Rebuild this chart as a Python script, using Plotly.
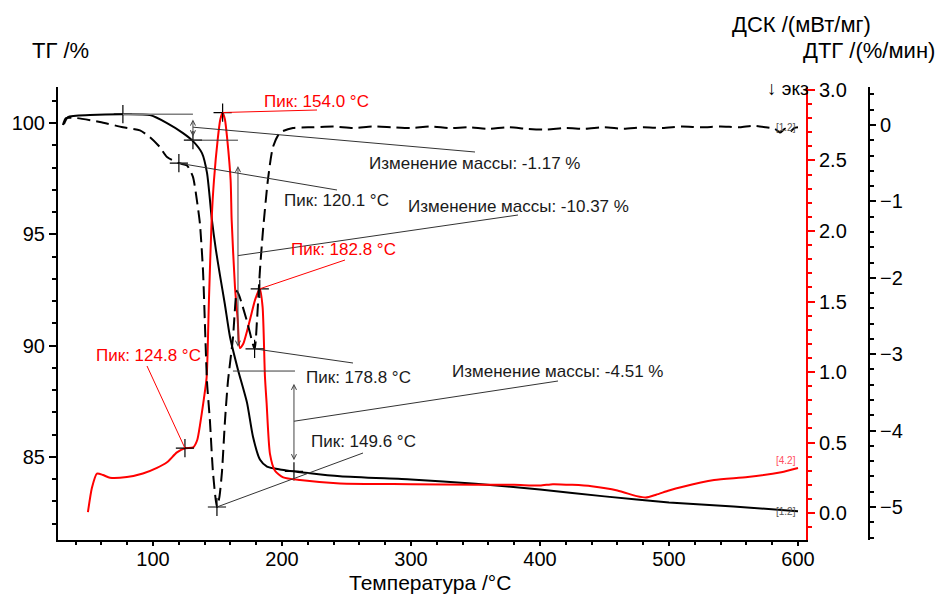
import plotly.graph_objects as go

# ---------------- data ----------------
T_tg = [31, 34.1, 51.2, 76.7, 97.7, 110.9, 123.3, 131.0, 138.0, 141.9, 145.7, 148.8,
        151.9, 155.8, 159.7, 165.9, 172.9, 177.5, 182.9, 188.4, 198.4, 245, 300, 350,
        400, 450, 500, 550, 600]
tg = [99.95, 100.27, 100.36, 100.40, 100.36, 100.0, 99.55, 99.19, 98.65, 97.76, 95.65, 94.3,
      93.18, 91.84, 90.4, 88.92, 87.44, 85.92, 84.89, 84.57, 84.44, 84.13, 83.99, 83.8,
      83.54, 83.23, 82.96, 82.78, 82.56]

T_dsc = [49.6, 52.7, 56.6, 61.2, 66.7, 79.8, 92.2, 103.1, 110.9, 118.6, 124.8, 131.2, 134.4,
         136.4, 139.0, 141.6, 143.4, 145.5, 147.3, 150.2, 152.2, 154.0, 155.8, 157.6, 160.2,
         161.0, 163.6, 165.7, 167.4, 170.0, 175.2, 179.1, 182.8, 185.0, 186.8, 188.1, 190.7,
         194.6, 201.0, 214.0, 245.0, 300, 350, 380, 400, 410, 425, 440, 460, 475, 482, 490,
         500, 510, 535, 561, 587, 600]
dsc = [0.007, 0.18, 0.28, 0.27, 0.25, 0.255, 0.28, 0.32, 0.36, 0.43, 0.46, 0.466, 0.52,
       0.62, 0.78, 0.96, 1.51, 2.08, 2.36, 2.65, 2.79, 2.84, 2.79, 2.65, 2.36,
       2.08, 1.60, 1.37, 1.17, 1.20, 1.37, 1.51, 1.59, 1.46, 0.97, 0.78, 0.42,
       0.30, 0.253, 0.234, 0.21, 0.205, 0.20, 0.20, 0.195, 0.205, 0.20, 0.19, 0.16, 0.12, 0.11, 0.13,
       0.16, 0.185, 0.234, 0.255, 0.29, 0.32]

T_dtg = [30.2, 32.6, 41.1, 58.9, 76.7, 89.9, 97.7, 105.4, 110.9, 120.1, 126.4, 131.0, 134.1,
         136.4, 138.8, 141.9, 144.2, 146.5, 149.6, 151.5, 153.5, 155.8, 158.1, 162.0, 165.1,
         167.4, 172.9, 178.8, 180.6, 182.9, 185.3, 189.1, 193.0, 198.4, 208.5, 224, 240, 255,
         270, 285, 300, 315, 330, 345, 360, 375, 390, 405, 420, 435, 450, 465, 480, 495, 510,
         525, 540, 555, 565, 575, 582, 586, 590, 594, 597, 600]
dtg = [0.0, 0.09, 0.09, 0.04, -0.03, -0.07, -0.16, -0.29, -0.42, -0.50, -0.53, -0.68, -0.99,
       -1.29, -1.91, -3.36, -3.88, -4.54, -5.00, -4.87, -4.54, -3.88, -3.36, -2.79, -2.17,
       -2.26, -2.57, -2.93, -2.57, -1.91, -1.38, -0.72, -0.29, -0.10, -0.04, -0.03, -0.02, -0.04,
       -0.02, -0.03, -0.04, -0.02, -0.04, -0.03, -0.05, -0.03, -0.05, -0.06, -0.04, -0.05, -0.03,
       -0.05, -0.03, -0.04, -0.02, -0.03, -0.02, -0.03, -0.01, -0.03, -0.05, -0.10, -0.05, -0.09,
       -0.04, -0.03]

dsc_peak_T = [124.8, 154.0, 182.8]
dsc_peak_v = [0.46, 2.84, 1.59]
dtg_peak_T = [120.1, 149.6, 178.8]
dtg_peak_v = [-0.50, -5.00, -2.93]

tg_start_T = 76.7
tg_start = 100.40
mass_change = [-1.17, -10.37, -4.51]
step_T = [131.0, 165.9, 209.3]

x_tickvals = [100, 200, 300, 400, 500, 600]
tg_tickvals = [85, 90, 95, 100]
dsc_tickvals = [0.0, 0.5, 1.0, 1.5, 2.0, 2.5, 3.0]
dtg_tickvals = [-5, -4, -3, -2, -1, 0]

# ---------------- layout geometry ----------------
W, H = 939, 594
ML, MR, MT, MB = 58, 20, 87, 54
PW, PH = W - ML - MR, H - MT - MB
X_RANGE = [26.4, 606.2]
Y_TG = [81.27, 101.62]
Y_DSC = [-0.191, 3.021]
Y_DTG = [-5.432, 0.497]
DOM_X1 = 748 / PW
DTG_POS = (869 - ML) / PW

RED = "#ff0000"
INK = "#1a1a1a"
FONT = "Liberation Sans, Arial, sans-serif"


def px(xp):
    return (xp - ML) / PW


def py(yp):
    return (H - MB - yp) / PH


def dx(T):
    return DOM_X1 * (T - X_RANGE[0]) / (X_RANGE[1] - X_RANGE[0])


def dy(v, rng):
    return (v - rng[0]) / (rng[1] - rng[0])


fig = go.Figure()

fig.add_trace(go.Scatter(x=T_tg, y=tg, mode="lines", yaxis="y",
                         line=dict(color="black", width=2, shape="spline", smoothing=0.6),
                         showlegend=False, hoverinfo="skip"))
fig.add_trace(go.Scatter(x=T_dsc, y=dsc, mode="lines", yaxis="y2",
                         line=dict(color=RED, width=2, shape="spline", smoothing=0.6),
                         showlegend=False, hoverinfo="skip"))
fig.add_trace(go.Scatter(x=T_dtg, y=dtg, mode="lines", yaxis="y3",
                         line=dict(color="black", width=2, dash="13px,6px", shape="spline", smoothing=0.6),
                         showlegend=False, hoverinfo="skip"))

# mass change levels
levels = [tg_start]
for m in mass_change:
    levels.append(levels[-1] + m)

cross = dict(symbol="cross-thin", size=13, line=dict(width=1.2, color="black"))
fig.add_trace(go.Scatter(x=[tg_start_T, step_T[0], step_T[2]], y=[levels[0], levels[1], levels[3]],
                         mode="markers", yaxis="y", marker=cross, showlegend=False, hoverinfo="skip"))
fig.add_trace(go.Scatter(x=dsc_peak_T, y=dsc_peak_v, mode="markers", yaxis="y2",
                         marker=cross, showlegend=False, hoverinfo="skip"))
fig.add_trace(go.Scatter(x=dtg_peak_T, y=dtg_peak_v, mode="markers", yaxis="y3",
                         marker=cross, showlegend=False, hoverinfo="skip"))

shapes = []
annotations = []

# horizontal level lines
line_spans = [(tg_start_T, step_T[0]), (step_T[0] - 4.6, step_T[1]), (step_T[1] - 3.9, step_T[2] + 0.8)]
for k, (a, b) in enumerate(line_spans):
    shapes.append(dict(type="line", xref="x", yref="y", x0=a, x1=b, y0=levels[k], y1=levels[k],
                       line=dict(color="#7f7f7f" if k == 0 else "#3a3a3a", width=1.5 if k == 0 else 1)))

# double arrows for mass change
mass_text_pos = [(474, 163), (518, 206), (557, 371)]
mass_leader_end = [(475, 152), (518, 215), (558, 381)]
for k in range(3):
    top, bot = levels[k], levels[k + 1]
    inset = 0.1 * abs(mass_change[k]) + 0.05
    annotations.append(dict(x=step_T[k], y=bot + inset, ax=step_T[k], ay=top - inset,
                            xref="x", yref="y", axref="x", ayref="y", text="", showarrow=True,
                            arrowside="end+start", arrowhead=5, arrowsize=1, arrowwidth=1,
                            arrowcolor="#444444"))
    mid = (top + bot) / 2
    shapes.append(dict(type="line", xref="paper", yref="paper",
                       x0=dx(step_T[k]), y0=dy(mid, Y_TG),
                       x1=px(mass_leader_end[k][0]), y1=py(mass_leader_end[k][1]),
                       line=dict(color="#333333", width=1)))
    annotations.append(dict(x=px(mass_text_pos[k][0]), y=py(mass_text_pos[k][1]), xref="paper", yref="paper",
                            text="Изменение массы: %.2f %%" % mass_change[k], showarrow=False,
                            xanchor="center", yanchor="middle",
                            font=dict(family=FONT, size=17, color=INK)))

# peak labels
dsc_text_pos = [(148, 356), (316, 101), (343, 249)]
dsc_leader_end = [(147, 366), (317, 110), (345, 260)]
for k in range(3):
    shapes.append(dict(type="line", xref="paper", yref="paper",
                       x0=dx(dsc_peak_T[k]), y0=dy(dsc_peak_v[k], Y_DSC),
                       x1=px(dsc_leader_end[k][0]), y1=py(dsc_leader_end[k][1]),
                       line=dict(color=RED, width=1)))
    annotations.append(dict(x=px(dsc_text_pos[k][0]), y=py(dsc_text_pos[k][1]), xref="paper", yref="paper",
                            text="Пик: %.1f °C" % dsc_peak_T[k], showarrow=False,
                            xanchor="center", yanchor="middle",
                            font=dict(family=FONT, size=17, color=RED)))

dtg_text_pos = [(336, 200), (363, 441), (358, 377)]
dtg_leader_end = [(337, 190), (363, 453), (353, 363)]
for k in range(3):
    shapes.append(dict(type="line", xref="paper", yref="paper",
                       x0=dx(dtg_peak_T[k]), y0=dy(dtg_peak_v[k], Y_DTG),
                       x1=px(dtg_leader_end[k][0]), y1=py(dtg_leader_end[k][1]),
                       line=dict(color="#333333", width=1)))
    annotations.append(dict(x=px(dtg_text_pos[k][0]), y=py(dtg_text_pos[k][1]), xref="paper", yref="paper",
                            text="Пик: %.1f °C" % dtg_peak_T[k], showarrow=False,
                            xanchor="center", yanchor="middle",
                            font=dict(family=FONT, size=17, color=INK)))

# curve tags at the right end
annotations += [
    dict(x=600, y=dtg[-1], xref="x", yref="y3", text="[1.2]", showarrow=False, xanchor="right",
         yanchor="middle", font=dict(family=FONT, size=10, color="#555555")),
    dict(x=600, y=dsc[-1], xref="x", yref="y2", text="[4.2]", showarrow=False, xanchor="right",
         yanchor="bottom", font=dict(family=FONT, size=10, color="#ff5060")),
    dict(x=600, y=tg[-1], xref="x", yref="y", text="[1.2]", showarrow=False, xanchor="right",
         yanchor="middle", font=dict(family=FONT, size=10, color="#555555")),
]

# axis titles
annotations += [
    dict(x=px(30), y=py(50), xref="paper", yref="paper", text="ТГ /%", showarrow=False,
         xanchor="left", yanchor="middle", font=dict(family=FONT, size=22, color="black")),
    dict(x=px(873), y=py(25), xref="paper", yref="paper", text="ДСК /(мВт/мг)", showarrow=False,
         xanchor="right", yanchor="middle", font=dict(family=FONT, size=22, color="black")),
    dict(x=px(937), y=py(50), xref="paper", yref="paper", text="ДТГ /(%/мин)", showarrow=False,
         xanchor="right", yanchor="middle", font=dict(family=FONT, size=22, color="black")),
    dict(x=px(430), y=py(582), xref="paper", yref="paper", text="Температура /°C", showarrow=False,
         xanchor="center", yanchor="middle", font=dict(family=FONT, size=21, color="black")),
    dict(x=px(811), y=py(88), xref="paper", yref="paper", text="↓ экз", showarrow=False,
         xanchor="right", yanchor="middle", font=dict(family=FONT, size=19, color="black")),
]

tickfont = dict(family=FONT, size=20, color="black")

fig.update_layout(
    width=W, height=H,
    margin=dict(l=ML, r=MR, t=MT, b=MB, pad=0),
    paper_bgcolor="white", plot_bgcolor="white",
    showlegend=False,
    xaxis=dict(domain=[0, DOM_X1], range=X_RANGE, tickvals=x_tickvals, showgrid=False, zeroline=False,
               showline=True, linecolor="black", linewidth=2, ticks="outside", ticklen=4,
               tickcolor="black", tickwidth=1.5, tickfont=tickfont, ticklabelstandoff=-4,
               minor=dict(dtick=20, tick0=0, ticks="outside", ticklen=3, tickcolor="black", showgrid=False)),
    yaxis=dict(range=Y_TG, tickvals=tg_tickvals, showgrid=False, zeroline=False,
               showline=True, linecolor="black", linewidth=2, ticks="outside", ticklen=7,
               tickcolor="black", tickwidth=1.5, tickfont=tickfont,
               minor=dict(dtick=1, tick0=0, ticks="outside", ticklen=4, tickcolor="black", showgrid=False)),
    yaxis2=dict(range=Y_DSC, tickvals=dsc_tickvals, tickformat=".1f", overlaying="y", side="right",
                anchor="x", showgrid=False, zeroline=False, showline=True, linecolor=RED, linewidth=2,
                ticks="outside", ticklen=7, tickcolor=RED, tickwidth=1.5, tickfont=tickfont,
                minor=dict(dtick=0.1, tick0=0, ticks="outside", ticklen=4, tickcolor=RED, showgrid=False)),
    yaxis3=dict(range=Y_DTG, tickvals=dtg_tickvals, overlaying="y", side="right", anchor="free",
                position=DTG_POS, showgrid=False, zeroline=False, showline=True, linecolor="black",
                linewidth=2, ticks="outside", ticklen=6, tickcolor="black", tickwidth=1.5, tickfont=tickfont,
                minor=dict(dtick=0.2, tick0=0, ticks="outside", ticklen=4, tickcolor="black", showgrid=False)),
    shapes=shapes,
    annotations=annotations,
)

fig.write_html("out.html", config={"displayModeBar": False},
               post_script="document.body.style.margin='0px';document.body.style.overflow='hidden';")
